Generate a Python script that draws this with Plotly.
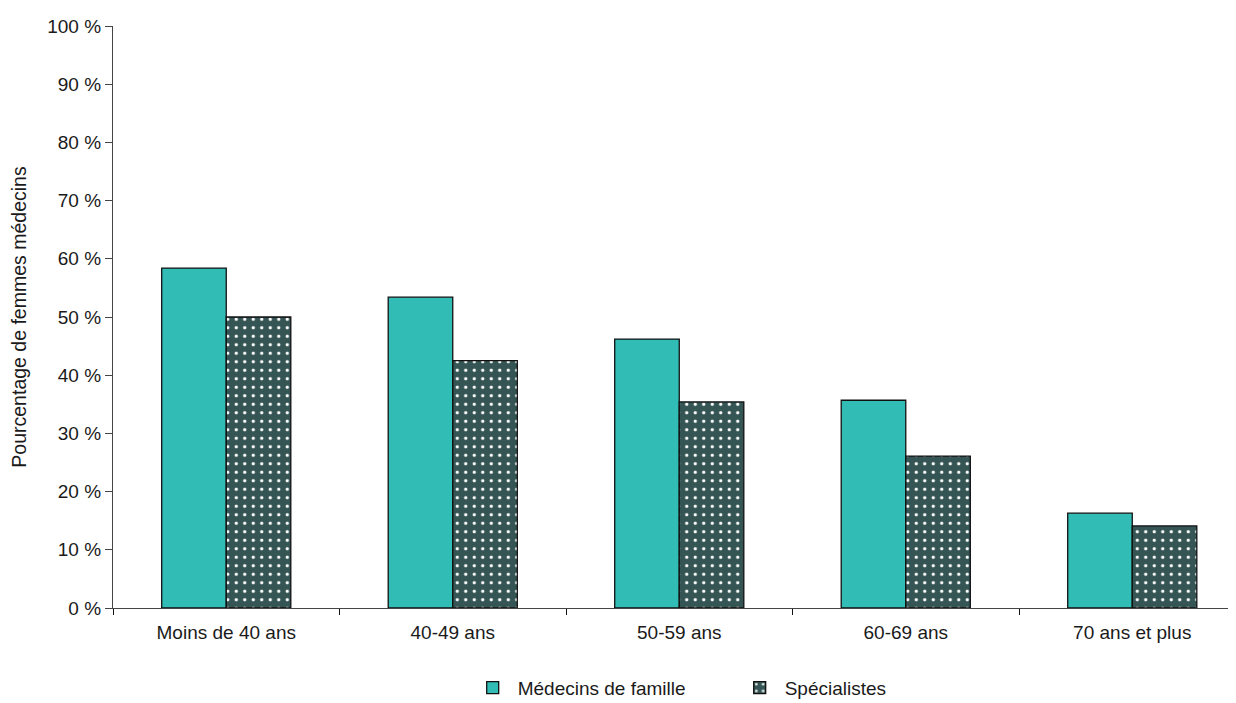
import plotly.graph_objects as go

categories = ["Moins de 40 ans", "40-49 ans", "50-59 ans", "60-69 ans", "70 ans et plus"]
medecins_famille = [58.4, 53.4, 46.2, 35.7, 16.3]
specialistes = [50.0, 42.5, 35.4, 26.1, 14.1]
y_ticks = [0, 10, 20, 30, 40, 50, 60, 70, 80, 90, 100]
y_tick_labels = [f"{v} %" for v in y_ticks]

FONT = "Liberation Sans, Arial, sans-serif"
FS = 19

fig = go.Figure()
fig.add_trace(go.Bar(
    x=categories, y=medecins_famille, name="Médecins de famille",
    marker=dict(color="#31BDB5", line=dict(color="#111111", width=1.3)),
))
fig.add_trace(go.Bar(
    x=categories, y=specialistes, name="Spécialistes",
    marker=dict(color="#355454", line=dict(color="#111111", width=1.3),
                pattern=dict(shape=".", fgcolor="white", bgcolor="#355454",
                             size=8.5, solidity=0.12, fillmode="replace")),
))

fig.update_layout(
    width=1228, height=695,
    barmode="group", bargap=0.43, bargroupgap=0,
    plot_bgcolor="white", paper_bgcolor="white",
    margin=dict(l=105, r=0, t=18, b=95),
    font=dict(family=FONT, size=FS, color="#1a1a1a"),
    legend=dict(orientation="h", x=0.5536, xanchor="center",
                yref="container", y=0.022, yanchor="middle",
                font=dict(family=FONT, size=FS), itemwidth=40, tracegroupgap=0,
                entrywidth=212),
    showlegend=True,
)
fig.update_xaxes(
    range=[-0.5, 4.458], showline=True, linecolor="#444444", linewidth=1.3,
    ticks="outside", tickson="boundaries", ticklen=6, tickcolor="#111111",
    tickfont=dict(family=FONT, size=FS), showgrid=False, zeroline=False,
    ticklabelstandoff=7, automargin=False,
)
fig.update_yaxes(
    range=[0, 100], tickvals=y_ticks, ticktext=y_tick_labels,
    showline=True, linecolor="#444444", linewidth=1.3,
    ticks="outside", ticklen=7, tickcolor="#444444",
    tickfont=dict(family=FONT, size=FS), showgrid=False, zeroline=False,
    automargin=False,
    title=dict(text="Pourcentage de femmes médecins", font=dict(family=FONT, size=19.5), standoff=22),
)

fig.write_html("out.html")
